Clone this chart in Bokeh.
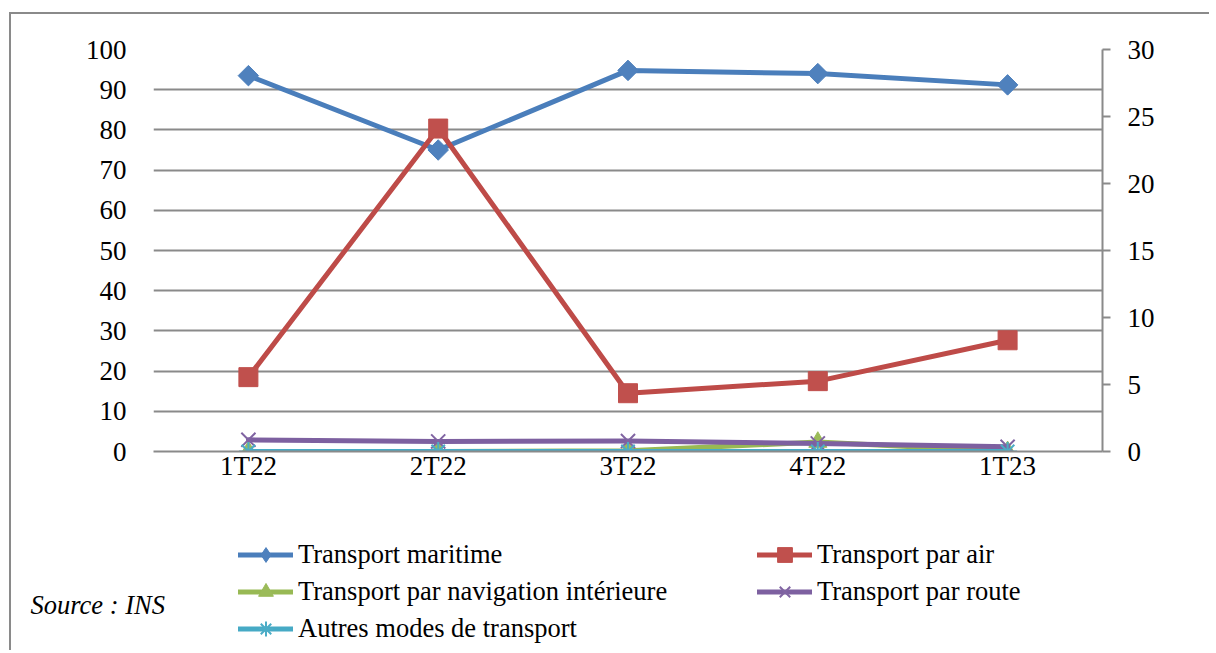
import numpy as np
from bokeh.plotting import figure
from bokeh.layouts import column
from bokeh.models import (Range1d, FactorRange, LinearAxis, FixedTicker, Legend,
                          LegendItem, Label, ColumnDataSource)
from bokeh.embed import file_html
from bokeh.resources import INLINE

# ---- data ----
categories = ["1T22", "2T22", "3T22", "4T22", "1T23"]
maritime = [93.5, 75.0, 94.8, 94.0, 91.2]          # left axis
air = [5.55, 24.1, 4.35, 5.25, 8.3]                 # right axis
navigation = [0.0, 0.0, 0.05, 0.7, 0.0]             # right axis
route = [0.87, 0.75, 0.78, 0.6, 0.35]               # right axis
autres = [0.0, 0.0, 0.0, 0.0, 0.0]                  # right axis
left_ticks = [0, 10, 20, 30, 40, 50, 60, 70, 80, 90, 100]
right_ticks = [0, 5, 10, 15, 20, 25, 30]
source_text = "Source : INS"

FONT = "Liberation Serif"
FS = "27px"
LFS = "26.5px"
GRID = "#8a8a8a"
BORDER = "2px solid #8a8a8a"

W = 1200
ML, MT, FW, FH = 142, 35, 949, 402
H1 = 482
H2 = 156

# ---------------- chart ----------------
p = figure(x_range=FactorRange(*categories), y_range=Range1d(0, 100),
           width=W, height=H1, output_backend="svg", toolbar_location=None,
           min_border_left=ML, min_border_right=W - ML - FW, min_border_top=MT,
           min_border_bottom=H1 - MT - FH)
p.styles = {"position": "relative", "left": "9px", "top": "12px",
            "border-left": BORDER, "border-top": BORDER}
p.extra_y_ranges = {"right": Range1d(0, 30)}
p.outline_line_color = None
p.xgrid.grid_line_color = None
p.ygrid.grid_line_color = GRID
p.ygrid.grid_line_width = 2
p.ygrid.ticker = FixedTicker(ticks=left_ticks)

yl = p.yaxis[0]
yl.ticker = FixedTicker(ticks=left_ticks)
yl.axis_line_color = None
yl.major_tick_line_color = None
yl.minor_tick_line_color = None
yl.major_label_standoff = 21
yl.major_label_text_font = FONT
yl.major_label_text_font_size = FS
yl.major_label_text_color = "black"

xa = p.xaxis[0]
xa.axis_line_color = GRID
xa.axis_line_width = 2
xa.major_tick_line_color = None
xa.minor_tick_line_color = None
xa.major_label_standoff = -7
xa.major_label_text_font = FONT
xa.major_label_text_font_size = FS
xa.major_label_text_color = "black"

yr = LinearAxis(y_range_name="right", ticker=FixedTicker(ticks=right_ticks))
yr.axis_line_color = GRID
yr.axis_line_width = 2
yr.major_tick_line_color = GRID
yr.major_tick_line_width = 2
yr.major_tick_in = 0
yr.major_tick_out = 8
yr.minor_tick_line_color = None
yr.major_label_standoff = 17
yr.major_label_text_font = FONT
yr.major_label_text_font_size = FS
yr.major_label_text_color = "black"
p.add_layout(yr, "right")

# name, values, axis, line colour, marker colour, marker, size, angle, legend marker
series = [
    ("Transport maritime", maritime, "default", "#4A7EBB", "#4F81BD", "square", 14.5, np.pi / 4, "diamond"),
    ("Transport par air", air, "right", "#BE4B48", "#C0504D", "square", 19, 0.0, "square"),
    ("Transport par navigation intérieure", navigation, "right", "#98B954", "#9BBB59", "triangle", 18, 0.0, "triangle"),
    ("Transport par route", route, "right", "#7D60A0", "#8064A2", "x", 20, 0.0, "x"),
    ("Autres modes de transport", autres, "right", "#46AAC5", "#4BACC6", "asterisk", 19, 0.0, "asterisk"),
]

for name, vals, rng, lcol, mcol, marker, size, ang, lmarker in series:
    src = ColumnDataSource(dict(x=categories, y=vals))
    p.line("x", "y", source=src, y_range_name=rng, line_color=lcol,
           line_width=5, line_cap="round", line_join="round")
    lw = 2 if marker in ("x", "asterisk") else 1
    p.scatter("x", "y", source=src, y_range_name=rng, marker=marker,
              size=size, angle=ang, line_color=mcol, line_width=lw,
              fill_color=mcol)

# ---------------- legend strip (its data lie outside its visible range) ----
q = figure(x_range=FactorRange(*categories), y_range=Range1d(-1000, -999),
           width=W, height=H2, output_backend="svg", toolbar_location=None,
           x_axis_type=None, y_axis_type=None,
           min_border_left=0, min_border_right=0, min_border_top=0,
           min_border_bottom=0)
if "frame_align" in q.properties():
    q.frame_align = False
q.styles = {"position": "relative", "left": "9px", "top": "12px",
            "border-left": BORDER}
q.outline_line_color = None

items = {}
for name, vals, rng, lcol, mcol, marker, size, ang, lmarker in series:
    src = ColumnDataSource(dict(x=categories, y=vals))
    ln = q.line("x", "y", source=src, line_color=lcol, line_width=5,
                line_cap="round", line_join="round")
    lw = 2 if lmarker in ("x", "asterisk") else 1
    sc = q.scatter("x", "y", source=src, marker=lmarker,
                   line_color=mcol, line_width=lw, fill_color=mcol)
    items[name] = LegendItem(label=name, renderers=[ln, sc])


def make_legend(names, loc):
    return Legend(items=[items[n] for n in names], location=loc,
                  orientation="vertical", glyph_width=55, glyph_height=37,
                  label_height=37, spacing=0, label_standoff=5, padding=0,
                  margin=0, border_line_color=None, background_fill_alpha=0,
                  label_text_font=FONT, label_text_font_size=LFS,
                  label_text_color="black")


q.add_layout(make_legend(["Transport maritime",
                          "Transport par navigation intérieure",
                          "Autres modes de transport"], (227, 3)))
q.add_layout(make_legend(["Transport par air", "Transport par route"], (746, 40)))
q.add_layout(Label(x=19, y=46, x_units="screen", y_units="screen",
                   text=source_text, text_font=FONT, text_font_size=LFS,
                   text_font_style="italic", text_baseline="middle",
                   text_color="black"))

layout = column(p, q, spacing=0)
open("out.html", "w").write(file_html(layout, INLINE))
